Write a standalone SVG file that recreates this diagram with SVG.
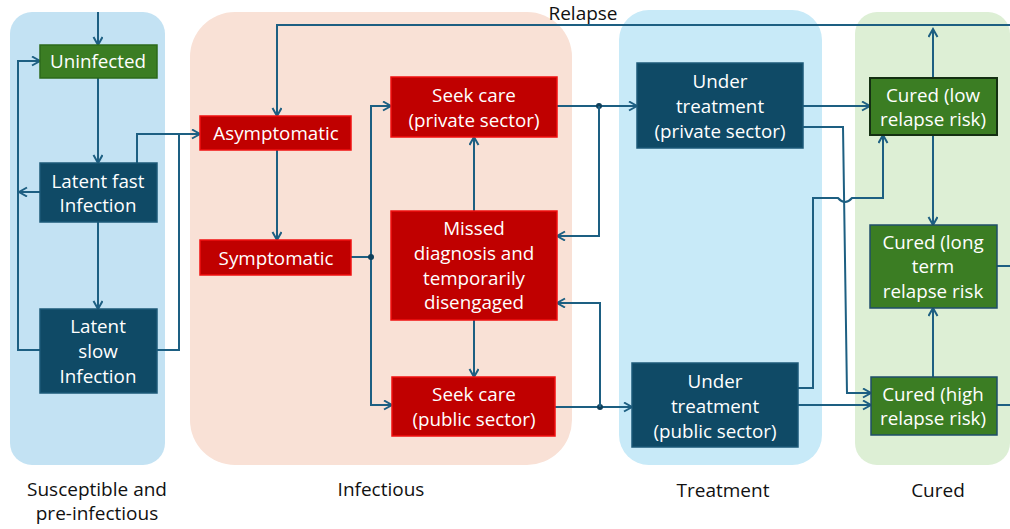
<svg xmlns="http://www.w3.org/2000/svg" width="1010" height="529" viewBox="0 0 1010 529">
<style>
.lbl{font-family:"Open Sans","Liberation Sans",sans-serif;font-size:19px;fill:#111;text-anchor:middle}
.nt{font-family:"Open Sans","Liberation Sans",sans-serif;font-size:18.8px;fill:#fff;text-anchor:middle;dominant-baseline:central}
.dark{fill:#0f4a66;stroke:#1c5a78;stroke-width:1.5}
.red{fill:#c00000;stroke:#f01010;stroke-width:1.5}
.grn{fill:#3b7d23;stroke:#1f4e6a;stroke-width:1.5}
.c{fill:none;stroke:#1d5f82;stroke-width:2}
.ca{fill:none;stroke:#1d5f82;stroke-width:2;marker-end:url(#ah)}
.dot{fill:#0f3f5a}
</style>
<defs>
<marker id="ah" markerUnits="userSpaceOnUse" markerWidth="12" markerHeight="12" refX="9" refY="5" orient="auto">
<path d="M1,0.5 L9,5 L1,9.5" fill="none" stroke="#1d5f82" stroke-width="2"/>
</marker>
</defs>
<rect width="1010" height="529" fill="#fff"/>
<g id="panels">
<rect x="10" y="12" width="155" height="453" rx="22" fill="#c3e2f3"/>
<rect x="190" y="12" width="382" height="453" rx="45" fill="#f9e1d6"/>
<rect x="619" y="10" width="203" height="455" rx="30" fill="#c8eaf8"/>
<rect x="855" y="12" width="155" height="453" rx="22" fill="#ddefd5"/>
</g>
<g id="connectors">
<path class="ca" d="M98,12 V45"/>
<path class="ca" d="M98,78 V163"/>
<path class="ca" d="M98,222 V309"/>
<path class="ca" d="M40,350 H18 V61 H40"/>
<path class="ca" d="M40,192 H19"/>
<path class="ca" d="M137,163 V134 H200"/>
<path class="c" d="M157,350 H179 V134"/>
<path class="ca" d="M1010,25 H277 V116"/>
<path class="ca" d="M277,150 V240"/>
<path class="c" d="M351,257 H371"/>
<path class="ca" d="M371,257 V106 H391"/>
<path class="ca" d="M371,257 V405 H392"/>
<circle class="dot" cx="371" cy="257" r="3"/>
<path class="ca" d="M474,211 V137"/>
<path class="ca" d="M474,320 V377"/>
<path class="ca" d="M557,106 H637"/>
<circle class="dot" cx="599" cy="106" r="3"/>
<path class="ca" d="M599,106 V236 H557"/>
<path class="ca" d="M555,407 H632"/>
<circle class="dot" cx="600" cy="407" r="3"/>
<path class="ca" d="M600,407 V303 H557"/>
<path class="ca" d="M803,106 H870"/>
<path class="ca" d="M803,127 H843 L847,393 H871"/>
<path class="ca" d="M798,388 H813 V198 H838 Q845,206 852,198 H883 V135"/>
<path class="ca" d="M798,405 H871"/>
<path class="ca" d="M933,78 V29"/>
<path class="ca" d="M933,135 V225"/>
<path class="ca" d="M933,377 V308"/>
<path class="c" d="M997,266 H1010"/>
<path class="c" d="M997,405 H1010"/>
</g>
<g id="uninfected"><rect class="grn" x="40" y="45" width="117" height="33" style="stroke:#2d6a1b"/><text class="nt" x="98" y="61">Uninfected</text></g>
<g id="latent-fast"><rect class="dark" x="40" y="163" width="117" height="59"/><text class="nt" x="98" y="181">Latent fast</text><text class="nt" x="98" y="205">Infection</text></g>
<g id="latent-slow"><rect class="dark" x="40" y="309" width="117" height="84"/><text class="nt" x="98" y="326">Latent</text><text class="nt" x="98" y="351">slow</text><text class="nt" x="98" y="376">Infection</text></g>
<g id="asymptomatic"><rect class="red" x="200" y="116" width="151" height="34"/><text class="nt" x="276" y="133">Asymptomatic</text></g>
<g id="symptomatic"><rect class="red" x="200" y="240" width="151" height="35"/><text class="nt" x="276" y="258">Symptomatic</text></g>
<g id="seek-private"><rect class="red" x="391" y="77" width="166" height="60"/><text class="nt" x="474" y="95">Seek care</text><text class="nt" x="474" y="120">(private sector)</text></g>
<g id="missed"><rect class="red" x="391" y="211" width="166" height="109"/><text class="nt" x="474" y="228">Missed</text><text class="nt" x="474" y="253">diagnosis and</text><text class="nt" x="474" y="278">temporarily</text><text class="nt" x="474" y="302">disengaged</text></g>
<g id="seek-public"><rect class="red" x="392" y="377" width="163" height="59"/><text class="nt" x="474" y="394">Seek care</text><text class="nt" x="474" y="419">(public sector)</text></g>
<g id="treat-private"><rect class="dark" x="637" y="63" width="166" height="85"/><text class="nt" x="720" y="81">Under</text><text class="nt" x="720" y="106">treatment</text><text class="nt" x="720" y="131">(private sector)</text></g>
<g id="treat-public"><rect class="dark" x="632" y="363" width="166" height="84"/><text class="nt" x="715" y="381">Under</text><text class="nt" x="715" y="406">treatment</text><text class="nt" x="715" y="431">(public sector)</text></g>
<g id="cured-low"><rect class="grn" x="870" y="78" width="127" height="57" style="stroke:#142f12;stroke-width:2"/><text class="nt" x="933" y="95">Cured (low</text><text class="nt" x="933" y="119">relapse risk)</text></g>
<g id="cured-long"><rect class="grn" x="870" y="225" width="127" height="83"/><text class="nt" x="933" y="242">Cured (long</text><text class="nt" x="933" y="266">term</text><text class="nt" x="933" y="291">relapse risk</text></g>
<g id="cured-high"><rect class="grn" x="871" y="377" width="126" height="58"/><text class="nt" x="933" y="394">Cured (high</text><text class="nt" x="933" y="418">relapse risk)</text></g>
<g id="labels">
<text class="lbl" x="583" y="20">Relapse</text>
<text class="lbl" x="97" y="496">Susceptible and</text>
<text class="lbl" x="97" y="520">pre-infectious</text>
<text class="lbl" x="381" y="496">Infectious</text>
<text class="lbl" x="723" y="497">Treatment</text>
<text class="lbl" x="938" y="497">Cured</text>
</g>
</svg>
